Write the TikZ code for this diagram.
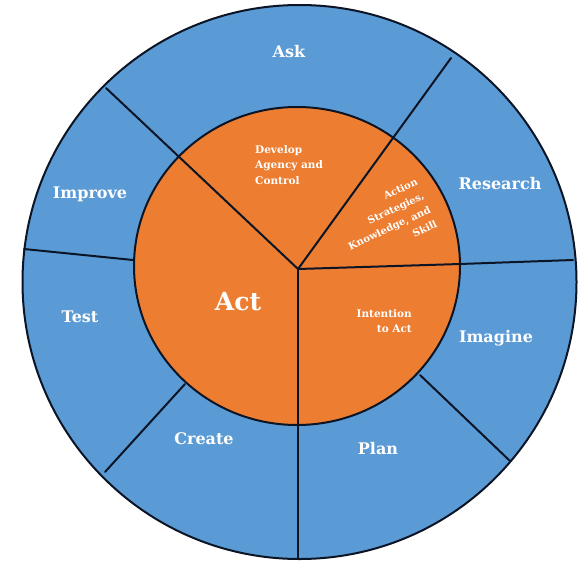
\documentclass[tikz,border=0pt]{standalone}
\usepackage{fontspec}
\setmainfont{DejaVu Serif}
\definecolor{ringblue}{HTML}{5B9BD5}
\definecolor{coreorange}{HTML}{ED7D31}
\definecolor{edgecol}{HTML}{0B1526}
\begin{document}
\begin{tikzpicture}[x=1pt,y=-1pt,
  outerlabel/.style={text=white,inner sep=0pt,font=\bfseries\fontsize{16}{18}\selectfont},
  innerlabel/.style={text=white,inner sep=0pt,font=\bfseries\fontsize{10.5}{15.5}\selectfont},
  divider/.style={draw=edgecol,line width=2pt,line cap=round}]
\useasboundingbox (0,0) rectangle (581,562);
\fill[white] (0,0) rectangle (581,562);
% rings
\draw[fill=ringblue,draw=edgecol,line width=2pt] (299.5,282) circle [radius=277pt];
\draw[fill=coreorange,draw=edgecol,line width=2pt] (297,266) ellipse [x radius=163pt, y radius=159pt];
% coordinates
\coordinate (hub) at (298,269);
\coordinate (o1) at (106,88);
\coordinate (o2) at (451,58);
\coordinate (o3) at (573,260);
\coordinate (i3) at (460,264);
\coordinate (i4) at (420,375);
\coordinate (o4) at (510,461);
\coordinate (o5) at (298,558);
\coordinate (i6) at (185,384);
\coordinate (o6) at (105,472);
\coordinate (o7) at (24,249);
\coordinate (i7) at (133,260);
% dividers
\draw[divider] (o1) -- (hub);
\draw[divider] (o2) -- (hub);
\draw[divider] (o3) -- (i3) -- (hub);
\draw[divider] (i4) -- (o4);
\draw[divider] (hub) -- (o5);
\draw[divider] (i6) -- (o6);
\draw[divider] (o7) -- (i7);
% outer labels
\node[outerlabel] (ask) at (289,52) {Ask};
\node[outerlabel] (research) at (500,184) {Research};
\node[outerlabel] (improve) at (90,194) {Improve};
\node[outerlabel] (test) at (80,317) {Test};
\node[outerlabel] (imagine) at (496,338) {Imagine};
\node[outerlabel] (plan) at (378,449) {Plan};
\node[outerlabel] (create) at (204,439) {Create};
% inner labels
\node[text=white,inner sep=0pt,font=\bfseries\fontsize{25}{28}\selectfont] (act) at (238,302) {Act};
\node[innerlabel,align=left,anchor=west] (develop) at (255,165) {Develop\\Agency and\\Control};
\node[innerlabel,align=right,anchor=east] (intention) at (412,321) {Intention\\to Act};
\node[innerlabel,font=\bfseries\fontsize{10}{15.4}\selectfont,align=right,rotate=25] (action) at (386,221) {Action\\Strategies,\\Knowledge, and\\Skill};
\end{tikzpicture}
\end{document}
